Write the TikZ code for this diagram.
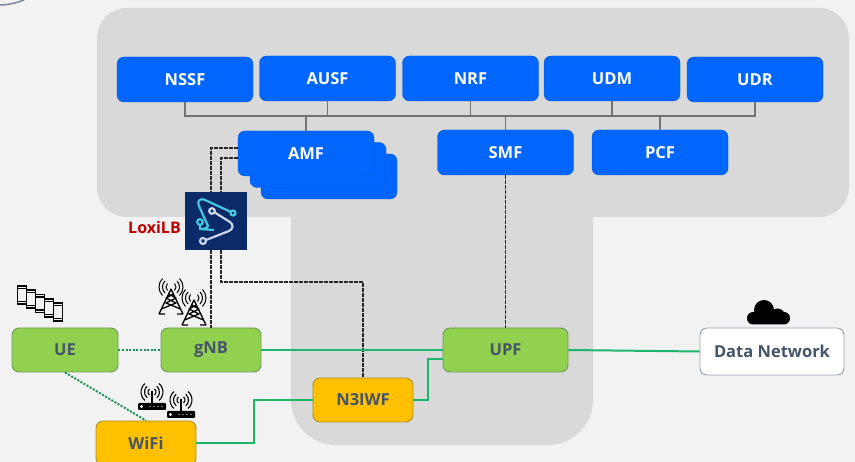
\documentclass[tikz,border=0pt]{standalone}
\usepackage{fontspec}
\setmainfont{Open Sans}
\usepackage{tikz}
\usetikzlibrary{calc}
\tikzset{>=latex}
\definecolor{backgr}{HTML}{F2F2F2}
\definecolor{corefill}{HTML}{D9D9D9}
\definecolor{nfblue}{HTML}{0066FF}
\definecolor{ranfill}{HTML}{92D050}
\definecolor{wififill}{HTML}{FFC000}
\definecolor{boxtext}{HTML}{44546A}
\definecolor{linkgreen}{HTML}{1DB56A}
\definecolor{loxinavy}{HTML}{0B2A68}
\definecolor{loxicyan}{HTML}{45C8E0}
\definecolor{loxiwhite}{HTML}{C9D6EA}
\tikzset{
  nfbox/.style = {draw = nfblue!85!black, fill = nfblue, rounded corners = 7, minimum width = 136, minimum height = 45, inner sep = 0, text = white, font = \fontsize{16.5}{16.5}\selectfont\bfseries},
  ranbox/.style = {draw = ranfill!55!boxtext, line width = 0.9, fill = ranfill, rounded corners = 7, minimum height = 44, inner sep = 0, text = boxtext, font = \fontsize{16.5}{16.5}\selectfont\bfseries},
  apbox/.style = {ranbox, draw = wififill!55!boxtext, fill = wififill, minimum width = 100},
  busline/.style = {draw = black!55, line width = 1.4},
  ctrlline/.style = {draw = black!85, line width = 1.5, dash pattern = on 3.5 off 1.5},
  dataline/.style = {draw = linkgreen, line width = 2},
  airline/.style = {draw = linkgreen!80!black, line width = 2, dash pattern = on 2 off 1.6},
  tower/.pic = {
    \draw[line width = 1.3, line join = round] (-12, 25) -- (0, 0) -- (12, 25) (-9.5, 20) -- (5, 14) -- (-5, 9) -- (2.5, 5)
      (9.5, 20) -- (-5, 14) -- (5, 9) -- (-2.5, 5) (-12, 25) -- (-6, 25) (12, 25) -- (6, 25);
    \foreach \r in {5, 8.5, 12}
      \draw[line width = 1] (0, -2) ++(-45:\r) arc[start angle = -45, end angle = 45, radius = \r]
        (0, -2) ++(135:\r) arc[start angle = 135, end angle = 225, radius = \r];
  },
  router/.pic = {
    \fill[rounded corners = 1] (-14, 15) rectangle (14, 22);
    \fill[white] (-10.5, 18.5) circle (1.6);
    \foreach \d in {-2, 2, 6, 10} \fill[white] (\d, 18.5) circle (0.7);
    \draw[line width = 1.2] (0, 3) -- (0, 15);
    \foreach \r in {4, 7.5, 11}
      \draw[line width = 1.1] (0, 4) ++(-50:\r) arc[start angle = -50, end angle = 50, radius = \r]
        (0, 4) ++(130:\r) arc[start angle = 130, end angle = 230, radius = \r];
  },
  phone/.pic = {
    \draw[fill = backgr, line width = 1.6] (-4.5, -9) rectangle (4.5, 9);
    \draw[line width = 1.3] (-4.5, -6.5) -- (4.5, -6.5) (-4.5, 6.5) -- (4.5, 6.5);
  }
}

\begin{document}
\begin{tikzpicture}[x = 1pt, y = -1pt]
\useasboundingbox (0, 0) rectangle (855, 462);
\fill[backgr] (0, 0) rectangle (855, 462);
\draw[draw = boxtext!70!white, line width = 1.5] (0, 5) .. controls (8, 5) and (16, 3) .. (24, 0); % cut off logo

% core network area
\fill[corefill, rounded corners = 30] (97, 8) rectangle (849, 217);
\fill[corefill, rounded corners = 45] (291, 150) rectangle (593, 445);

\node[nfbox] (nssf) at (185, 79.5) {NSSF};
\node[nfbox] (ausf) at (327.5, 78.5) {AUSF};
\node[nfbox] (nrf) at (470.5, 78.5) {NRF};
\node[nfbox] (udm) at (612, 78.5) {UDM};
\node[nfbox] (udr) at (755, 79.5) {UDR};

\node[nfbox] (amfc) at (329, 176.5) {};
\node[nfbox] (amfb) at (318, 165) {};
\node[nfbox] (amf) at (306, 153.5) {AMF};
\node[nfbox] (smf) at (505.5, 152.5) {SMF};
\node[nfbox] (pcf) at (660, 152.5) {PCF};

\node[ranbox, minimum width = 106] (ue) at (65, 350) {UE};
\node[ranbox, minimum width = 100] (gnb) at (211, 350) {gNB};
\node[ranbox, minimum width = 125] (upf) at (505.5, 350) {UPF};
\node[apbox] (n3iwf) at (363, 400) {N3IWF};
\node[apbox] (wifi) at (146, 443) {WiFi};
\node[ranbox, draw = boxtext!55!white, fill = white, minimum width = 144, minimum height = 47] (dn) at (772, 351.5) {Data Network};

% service bus
\coordinate (bus) at (470.5, 116);
\draw[busline] (nssf.south) |- (bus) -| (udr.south);
\foreach \n in {ausf, nrf, udm} \draw[busline] (\n.south) -- (\n.south |- bus);
\foreach \n in {amf, smf, pcf} \draw[busline] (\n.north) -- (\n.north |- bus);

% LoxiLB box and logo
\node[fill = loxinavy, minimum width = 62, minimum height = 58, inner sep = 0] (loxilb) at (216, 221) {};
\node[text = red!75!black, font = \fontsize{16}{16}\selectfont\bfseries, inner sep = 0] (loxilabel) at (154.5, 228) {LoxiLB};
\draw[loxicyan, line width = 2.2, line join = round] (231, 212) -- (204, 199.5) .. controls (199, 198) and (197, 202) .. (199, 206)
  -- (208, 226) .. controls (206, 229) and (204, 229) .. (200, 229) -- (200, 225)
  (200, 229) -- (214, 230);
\draw[loxicyan, line width = 2.2] (233, 213) circle (2.5) (200, 222) circle (2.8);
\draw[loxiwhite, line width = 2.2, line join = round] (214, 212) -- (230, 222) .. controls (234, 225) and (233, 229) .. (229, 231) -- (206, 240);
\draw[loxiwhite, line width = 2.2] (212, 211) circle (2.8) (203, 241) circle (3);

% control plane
\coordinate (amfup) at ($(amf.west)+(0, -5.5)$);
\coordinate (amflo) at ($(amf.west)+(0, 4.5)$);
\coordinate (loxtopl) at ($(loxilb.north)+(-5, 0)$);
\coordinate (loxtopr) at ($(loxilb.north)+(5, 0)$);
\coordinate (loxbotl) at ($(loxilb.south)+(-5, 0)$);
\coordinate (loxbotr) at ($(loxilb.south)+(5, 0)$);
\coordinate (n3turn) at (363, 282);
\draw[ctrlline] (amfup) -| (loxtopl);
\draw[ctrlline] (amflo) -| (loxtopr);
\draw[ctrlline] (loxbotl) -- (gnb.north);
\draw[ctrlline] (loxbotr) |- (n3turn) -- (n3iwf.north);
\draw[ctrlline] (smf.south) -- (upf.north);

% user plane
\coordinate (wifiturn) at (254, 400);
\coordinate (n3up) at (428, 359);
\coordinate (upfin) at ($(upf.west)+(0, 9)$);
\draw[dataline] (gnb.east) -- (upf.west);
\draw[dataline] (upf.east) -- (dn.west);
\draw[dataline] (wifi.east) -| (wifiturn) -- (n3iwf.west);
\draw[dataline] (n3iwf.east) -| (n3up) -- (upfin);
\draw[airline] (ue.east) -- (gnb.west);
\draw[airline] (ue.south) -- (wifi.north);

% icons
\foreach \i in {0, 1, 2, 3, 4} \pic at (22 + 9*\i, 295 + 4.3*\i) {phone};
\pic at (171, 289) {tower};
\pic at (194, 300) {tower};
\pic at (152, 388) {router};
\pic at (181, 396) {router};
\fill[black, rounded corners = 6] (747, 312) rectangle (790, 324.5);
\fill[black] (764, 310) circle (10) (777.5, 316) circle (7.5);
\end{tikzpicture}
\end{document}
